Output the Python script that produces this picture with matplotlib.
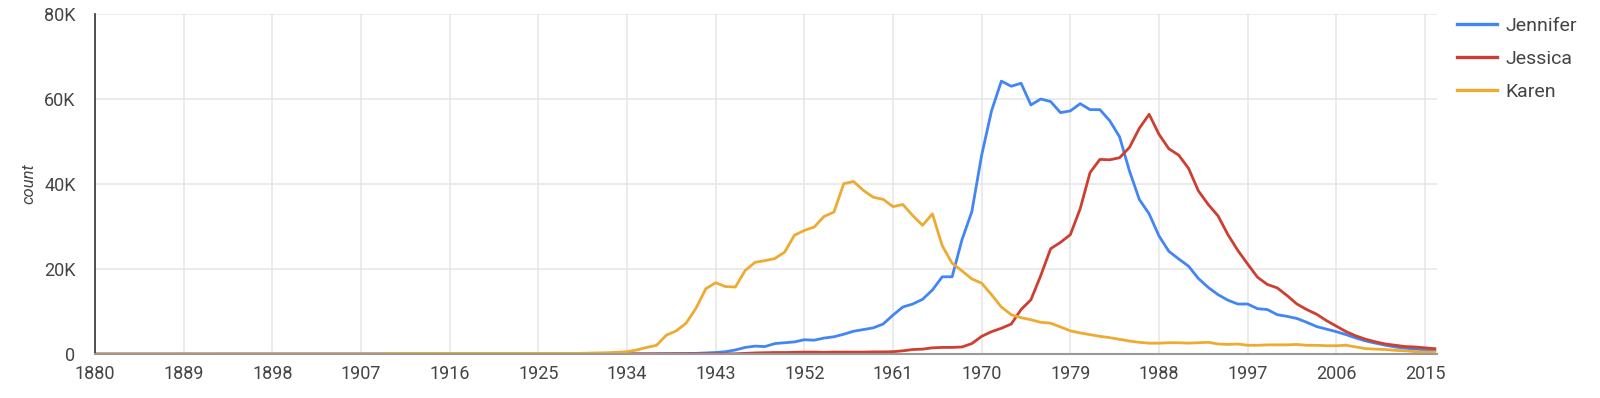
import numpy as np
import matplotlib.pyplot as plt
from matplotlib.ticker import FuncFormatter

plt.rcParams['font.family'] = ['Roboto', 'DejaVu Sans']

years = np.arange(1880, 2017)

# values in thousands
karen_early = [0.05] * 30 + [0.2] * 20 + [0.25, 0.3, 0.35, 0.45]  # 1880-1933
karen_main = [0.6, 1.0, 1.6, 2.1, 4.5, 5.5, 7.3, 10.8, 15.4, 16.8,  # 1934-1943
              15.9, 15.8, 19.7, 21.6, 22.0, 22.5, 24.0, 28.0, 29.1, 29.9,  # 1944-1953
              32.4, 33.4, 40.1, 40.6, 38.5, 36.9, 36.4, 34.7, 35.2, 32.6,  # 1954-1963
              30.3, 33.0, 25.5, 21.4, 19.6, 17.7, 16.7, 14.0, 11.1, 9.3,  # 1964-1973
              8.6, 8.1, 7.5, 7.3, 6.4, 5.5, 5.0, 4.6, 4.2, 3.9,  # 1974-1983
              3.5, 3.1, 2.8, 2.6, 2.6, 2.7, 2.7, 2.6, 2.7, 2.8,  # 1984-1993
              2.4, 2.3, 2.4, 2.1, 2.1, 2.2, 2.2, 2.2, 2.3, 2.1,  # 1994-2003
              2.1, 2.0, 2.0, 2.1, 1.7, 1.3, 1.2, 1.1, 0.9, 0.8,  # 2004-2013
              0.6, 0.5, 0.5]  # 2014-2016
karen = np.array(karen_early + karen_main)

jennifer_early = [0.0] * 55 + [0.02, 0.05, 0.08, 0.1, 0.12, 0.15, 0.2, 0.3]  # 1880-1942
jennifer_main = [0.4, 0.6, 1.0, 1.6, 1.9, 1.8, 2.5, 2.7, 2.9, 3.4,  # 1943-1952
                 3.3, 3.8, 4.1, 4.7, 5.4, 5.8, 6.2, 7.1, 9.2, 11.1,  # 1953-1962
                 11.8, 12.9, 15.1, 18.2, 18.2, 26.9, 33.5, 46.8, 57.2, 64.2,  # 1963-1972
                 63.0, 63.7, 58.6, 60.0, 59.4, 56.8, 57.2, 58.9, 57.5, 57.5,  # 1973-1982
                 54.9, 51.1, 43.1, 36.4, 33.0, 27.8, 24.2, 22.4, 20.7, 17.8,  # 1983-1992
                 15.7, 14.0, 12.7, 11.8, 11.8, 10.7, 10.5, 9.3, 8.9, 8.4,  # 1993-2002
                 7.5, 6.5, 5.9, 5.3, 4.6, 3.8, 3.1, 2.6, 2.1, 1.7,  # 2003-2012
                 1.4, 1.2, 1.0, 0.9]  # 2013-2016
jennifer = np.array(jennifer_early + jennifer_main)

jessica_early = [0.05] * 50 + [0.1] * 16  # 1880-1945
jessica_main = [0.2, 0.3, 0.35, 0.4, 0.4, 0.45, 0.5, 0.5, 0.45, 0.5,  # 1946-1955
                0.5, 0.5, 0.5, 0.55, 0.55, 0.6, 0.8, 1.1, 1.2, 1.5,  # 1956-1965
                1.6, 1.6, 1.7, 2.5, 4.2, 5.3, 6.1, 7.1, 10.5, 12.8,  # 1966-1975
                18.5, 24.8, 26.3, 28.1, 34.2, 42.7, 45.8, 45.7, 46.2, 48.6,  # 1976-1985
                53.1, 56.4, 51.7, 48.3, 46.8, 43.7, 38.4, 35.2, 32.5, 28.1,  # 1986-1995
                24.4, 21.2, 18.1, 16.4, 15.6, 13.8, 11.8, 10.5, 9.4, 7.9,  # 1996-2005
                6.6, 5.3, 4.3, 3.5, 2.9, 2.4, 2.1, 1.8, 1.7, 1.5,  # 2006-2015
                1.3]  # 2016
jessica = np.array(jessica_early + jessica_main)

names = ['Jennifer', 'Jessica', 'Karen']
colors = ['#4285F4', '#CC3F31', '#EDAB32']

fig = plt.figure(figsize=(16, 3.98), dpi=100)
ax = fig.add_axes([0.0594, 0.110, 0.8386, 0.855])

for vals, name, c in zip([jennifer, jessica, karen], names, colors):
    ax.plot(years, vals * 1000, color=c, lw=2.0, label=name, solid_joinstyle='round')

ax.set_xlim(1880, 2016.2)
ax.set_ylim(0, 80000)
ax.set_xticks(np.arange(1880, 2017, 9))
ax.set_yticks(np.arange(0, 80001, 20000))
ax.yaxis.set_major_formatter(FuncFormatter(lambda v, p: '0' if v == 0 else f'{int(v/1000)}K'))

ax.grid(True, color='#e5e5e5', lw=1.1)
ax.set_axisbelow(True)
for s in ['top', 'right']:
    ax.spines[s].set_visible(False)
ax.spines['left'].set_color('#333333')
ax.spines['left'].set_linewidth(1.2)
ax.spines['bottom'].set_color('#999999')
ax.spines['bottom'].set_linewidth(1.5)
ax.tick_params(length=0, labelsize=13, labelcolor='#444444')
ax.tick_params(axis='y', pad=14)
ax.tick_params(axis='x', pad=8)

ax.set_ylabel('count', fontsize=12, style='italic', color='#444444', labelpad=5.5)

leg = ax.legend(loc='upper left', bbox_to_anchor=(0.9104, 0.958), bbox_transform=fig.transFigure,
                frameon=False, fontsize=14, handlelength=2.1, handletextpad=0.42,
                labelspacing=0.78, borderaxespad=0, borderpad=0)
for t in leg.get_texts():
    t.set_color('#444444')
for l in leg.get_lines():
    l.set_linewidth(2.4)

fig.savefig('out.png', dpi=100)
